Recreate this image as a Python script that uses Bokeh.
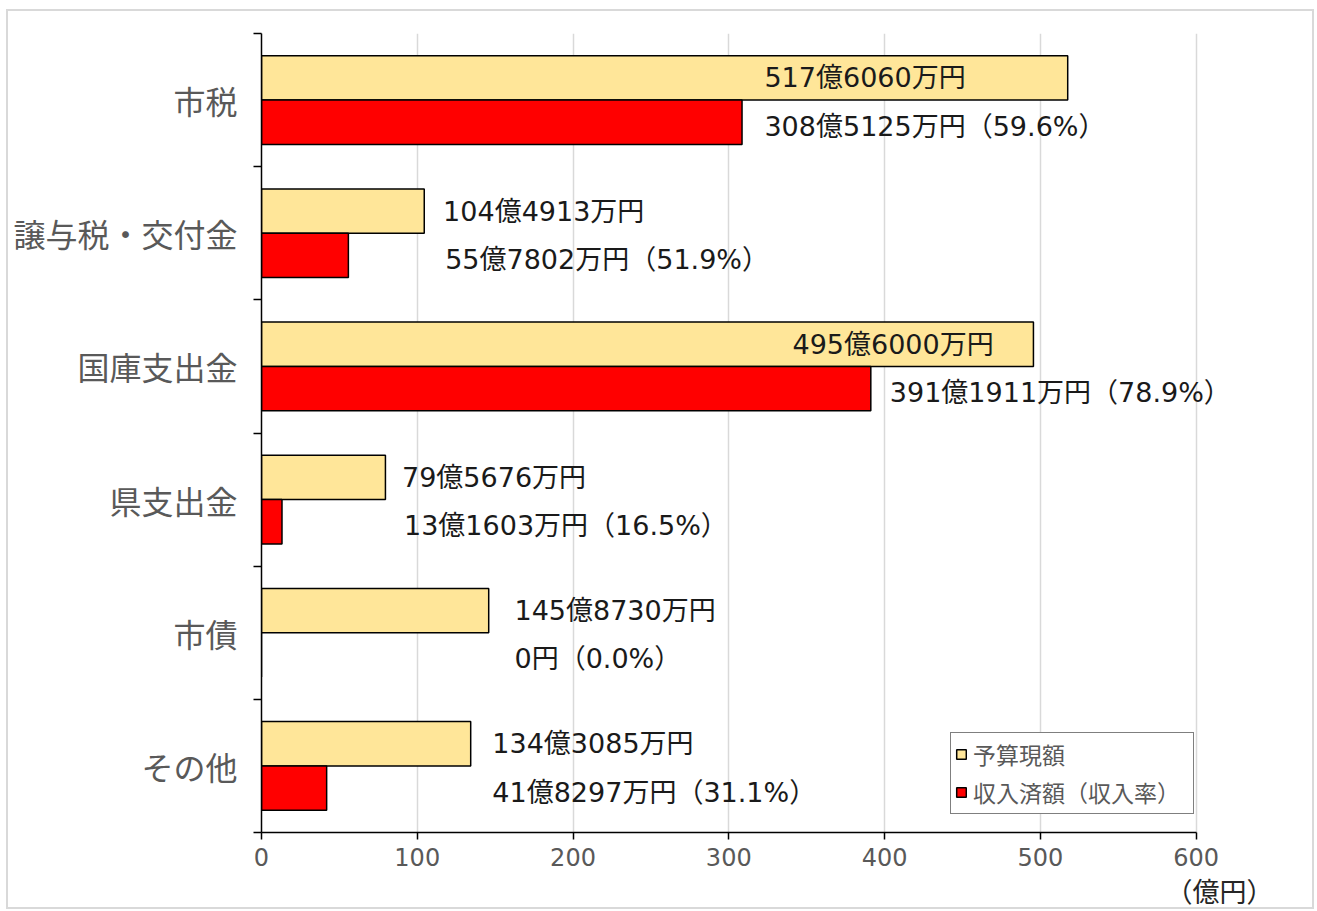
from bokeh.plotting import figure
from bokeh.models import ColumnDataSource, FixedTicker, Legend, LegendItem, Title
from bokeh.transform import dodge
from bokeh.core.properties import value
from bokeh.embed import file_html
from bokeh.resources import INLINE

# ---- data ----
categories = ["市税", "譲与税・交付金", "国庫支出金", "県支出金", "市債", "その他"]
budget = [517.6060, 104.4913, 495.6000, 79.5676, 145.8730, 134.3085]      # 億円 予算現額
received = [308.5125, 55.7802, 391.1911, 13.1603, 0.0, 41.8297]           # 億円 収入済額
budget_labels = ["517億6060万円", "104億4913万円", "495億6000万円",
                 "79億5676万円", "145億8730万円", "134億3085万円"]
received_labels = ["308億5125万円（59.6%）", "55億7802万円（51.9%）", "391億1911万円（78.9%）",
                   "13億1603万円（16.5%）", "0円（0.0%）", "41億8297万円（31.1%）"]
x_ticks = [0, 100, 200, 300, 400, 500, 600]
series_names = ["予算現額", "収入済額（収入率）"]
unit_text = "（億円）"

# ---- layout (label anchor positions in axis units) ----
budget_label_x = [322.9, 116.6, 340.9, 90.2, 162.4, 148.2]
received_label_x = [322.9, 117.9, 403.4, 91.5, 162.4, 148.2]

n = len(categories)
ypos = [n - i - 0.5 for i in range(n)]

src = ColumnDataSource(dict(
    y=ypos, budget=budget, received=received,
    bl=budget_labels, rl=received_labels,
    blx=budget_label_x, rlx=received_label_x,
))

FONT = "Noto Sans CJK JP"
NUMFONT = "DejaVu Sans, Noto Sans CJK JP"
GRAY = "#595959"

p = figure(width=1308, height=900, x_range=(0, 660), y_range=(0, n),
           output_backend="svg", toolbar_location=None,
           min_border_left=253, min_border_right=27, min_border_top=22, min_border_bottom=79)
p.outline_line_color = None
p.styles = {"border": "2px solid #d9d9d9", "box-sizing": "border-box",
            "margin-left": "6px", "margin-top": "9px"}

bh = 0.333
r1 = p.hbar(y=dodge("y", bh / 2, range=p.y_range), right="budget", left=0, height=bh, source=src,
            fill_color="#FFE699", line_color="black", line_width=1.5)
r2 = p.hbar(y=dodge("y", -bh / 2, range=p.y_range), right="received", left=0, height=bh, source=src,
            fill_color="#FF0000", line_color="black", line_width=1.5)

p.text(x="blx", y=dodge("y", bh / 2, range=p.y_range), text="bl", source=src,
       text_font=value(NUMFONT), text_font_size="27px", text_color="#1a1a1a",
       text_baseline="middle", text_align="left")
p.text(x="rlx", y=dodge("y", -bh / 2, range=p.y_range), text="rl", source=src,
       text_font=value(NUMFONT), text_font_size="27px", text_color="#1a1a1a",
       text_baseline="middle", text_align="left", y_offset=4)

# x axis
xa = p.xaxis[0]
xa.ticker = FixedTicker(ticks=x_ticks)
xa.bounds = (x_ticks[0], x_ticks[-1])
xa.axis_line_color = "black"
xa.axis_line_width = 1.5
xa.major_tick_line_color = "black"
xa.major_tick_line_width = 1.5
xa.major_tick_in = 0
xa.major_tick_out = 7
xa.minor_tick_line_color = None
xa.major_label_text_font = "DejaVu Sans"
xa.major_label_text_font_size = "24px"
xa.major_label_text_color = GRAY
xa.major_label_standoff = 8

# y axis
ya = p.yaxis[0]
ya.ticker = FixedTicker(ticks=ypos, minor_ticks=list(range(n + 1)))
ya.major_label_overrides = {y: c for y, c in zip(ypos, categories)}
ya.axis_line_color = "black"
ya.axis_line_width = 1.5
ya.major_tick_line_color = None
ya.major_tick_in = 0
ya.major_tick_out = 0
ya.minor_tick_line_color = "black"
ya.minor_tick_line_width = 1.5
ya.minor_tick_in = 0
ya.minor_tick_out = 8
ya.major_label_text_font = FONT
ya.major_label_text_font_size = "32px"
ya.major_label_text_color = GRAY
ya.major_label_standoff = 16

p.xgrid.ticker = FixedTicker(ticks=x_ticks[1:])
p.xgrid.grid_line_color = "#d9d9d9"
p.xgrid.grid_line_width = 1.5
p.ygrid.grid_line_color = None

legend = Legend(items=[LegendItem(label=series_names[0], renderers=[r1]),
                       LegendItem(label=series_names[1], renderers=[r2])],
                location=(689, 18))
legend.glyph_width = 12
legend.glyph_height = 12
legend.label_text_font = FONT
legend.label_text_font_size = "23px"
legend.label_text_color = GRAY
legend.label_standoff = 6
legend.label_height = 30
legend.label_width = 216
legend.spacing = 4
legend.padding = 4
legend.margin = 0
legend.border_line_color = "black"
legend.border_line_width = 1.5
legend.background_fill_alpha = 1
p.add_layout(legend)

unit_title = Title(text=unit_text, align="right", offset=16, standoff=0,
                   text_font=FONT, text_font_size="27px", text_color="#262626",
                   text_font_style="normal")
p.add_layout(unit_title, "below")

open("out.html", "w").write(file_html(p, INLINE))
